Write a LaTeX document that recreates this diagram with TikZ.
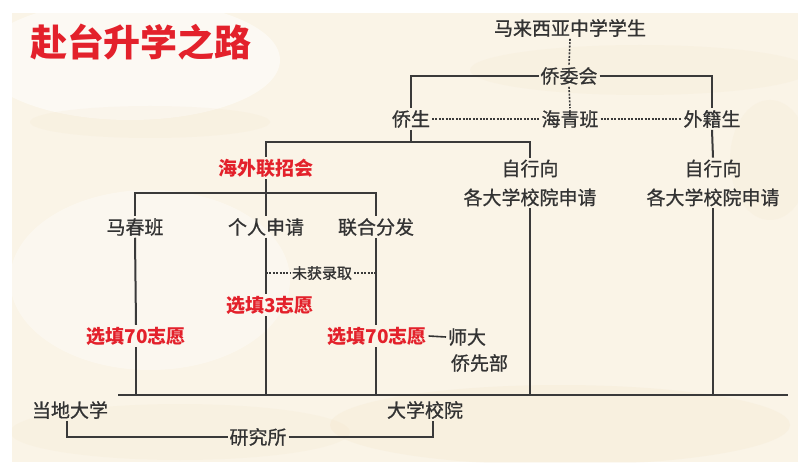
\documentclass[tikz,border=0pt]{standalone}
\usepackage{fontspec}
\newfontfamily\cjk{Noto Sans CJK SC}
\newfontfamily\cjkm[FakeBold=0.8]{Noto Sans CJK SC}
\definecolor{txtgray}{HTML}{333333}
\definecolor{linegray}{HTML}{3A3A3A}
\definecolor{hired}{HTML}{E3212B}
\definecolor{cream}{HTML}{FAF4E7}
\definecolor{beige}{HTML}{F1DFBD}
\tikzset{
  lbl/.style={font=\cjkm\fontsize{19}{29}\selectfont, text=txtgray, inner sep=2pt, outer sep=0pt, align=center},
  redlbl/.style={font=\cjk\bfseries\fontsize{19}{23}\selectfont, text=hired, inner sep=2pt, outer sep=0pt},
  smalllbl/.style={font=\cjkm\fontsize{15}{18}\selectfont, text=txtgray, inner sep=2pt, outer sep=0pt},
  conn/.style={draw=linegray, line width=2pt},
  dotconn/.style={draw=linegray, line width=1.6pt, dash pattern=on 2pt off 1.4pt},
}
\begin{document}
\begin{tikzpicture}[x=1pt,y=-1pt]
\useasboundingbox (0,0) rectangle (798,465);
\fill[white] (0,0) rectangle (798,465);
\fill[cream] (12,13) rectangle (798,462);
\begin{scope}
\clip (12,13) rectangle (798,462);
\fill[white,opacity=0.5] (130,60) ellipse (150 and 60);
\fill[white,opacity=0.35] (150,280) ellipse (140 and 90);
\fill[beige,opacity=0.14] (150,122) ellipse (120 and 16);
\fill[beige,opacity=0.14] (640,70) ellipse (170 and 25);
\fill[beige,opacity=0.18] (560,425) ellipse (230 and 40);
\fill[beige,opacity=0.12] (180,432) ellipse (170 and 28);
\fill[beige,opacity=0.14] (770,160) ellipse (40 and 60);
\end{scope}

% title
\node[font=\cjk\bfseries\fontsize{37}{40}\selectfont, text=hired, inner sep=0pt] (title) at (141,42) {赴台升学之路};

% nodes
\node[lbl] (mlxy) at (570,28) {马来西亚中学学生};
\node[lbl] (qwh) at (569,76) {侨委会};
\node[lbl] (qs) at (411,119) {侨生};
\node[lbl] (hqb) at (570,119) {海青班};
\node[lbl] (wjs) at (712,119) {外籍生};
\node[redlbl] (hwlzh) at (266,168) {海外联招会};
\node[lbl] (zx1) at (530,183) {自行向\\各大学校院申请};
\node[lbl] (zx2) at (713,183) {自行向\\各大学校院申请};
\node[lbl] (mcb) at (135,227) {马春班};
\node[lbl] (grsq) at (266,227) {个人申请};
\node[lbl] (lhff) at (376,227) {联合分发};
\node[smalllbl] (wh) at (322,273) {未获录取};
\node[redlbl] (xt3) at (270,305) {选填3志愿};
\node[redlbl] (xta) at (136,336) {选填70志愿};
\node[redlbl] (xtb) at (377,336) {选填70志愿};
\node[lbl, anchor=west] (sd1) at (446,337) {师大};
\node[lbl, anchor=west] (sd2) at (449,363) {侨先部};
\node[lbl] (ddx) at (70,410) {当地大学};
\node[lbl] (dxxy) at (425,410) {大学校院};
\node[lbl] (yjs) at (258,437) {研究所};

% junction coordinates
\coordinate (j1) at (411,142);
\coordinate (j2) at (266,193);
\coordinate (bl) at (118,395);
\coordinate (br) at (788,395);

% top part
\draw[dotconn] (mlxy.south) -- (qwh.north);
\draw[dotconn] (qwh.south) -- (hqb.north);
\draw[conn] (qwh.west) -| (qs.north);
\draw[conn] (qwh.east) -| (wjs.north);
\draw[dotconn] (qs.east) -- (hqb.west);
\draw[dotconn] (hqb.east) -- (wjs.west);

% qiaosheng branch
\draw[conn] (qs.south) -- (j1);
\draw[conn] (hwlzh.north) |- (j1) -| (zx1.north);
\draw[conn] (wjs.south) -- (zx2.north);

% lianzhaohui branch
\draw[conn] (hwlzh.south) -- (j2);
\draw[conn] (mcb.north) |- (j2) -| (lhff.north);
\draw[conn] (j2) -- (grsq.north);

% verticals down to the bottom line
\draw[conn] (mcb.south) -- (xta.north);
\draw[conn] (xta.south) -- (xta.south |- bl);
\draw[conn] (grsq.south) -- (grsq.south |- xt3.north);
\draw[conn] (grsq.south |- xt3.south) -- (grsq.south |- bl);
\draw[conn] (lhff.south) -- (lhff.south |- xtb.north);
\draw[conn] (lhff.south |- xtb.south) -- (lhff.south |- bl);
\draw[conn] (zx1.south) -- (zx1.south |- bl);
\draw[conn] (zx2.south) -- (zx2.south |- bl);
\draw[draw=linegray, line width=2.4pt] (bl) -- (br);

% not admitted
\draw[dotconn] (grsq.south |- wh.west) -- (wh.west);
\draw[dotconn] (wh.east) -- (lhff.south |- wh.east);

% shida
\draw[draw=txtgray, line width=1.6pt] (xtb.east) -- (sd1.west);

% graduate school
\draw[conn] ([xshift=-3pt]ddx.south) |- (yjs.west);
\draw[conn] (yjs.east) -| ([xshift=8pt]dxxy.south);
\end{tikzpicture}
\end{document}
